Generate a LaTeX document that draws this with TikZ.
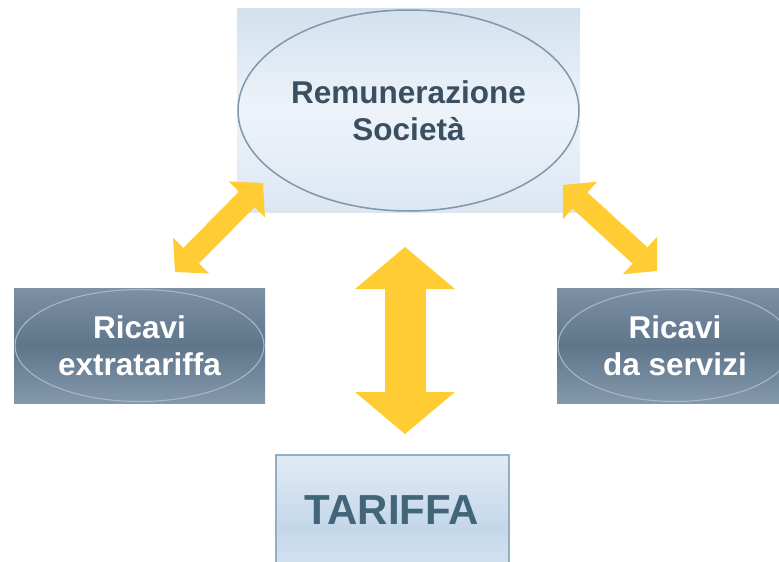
\documentclass[tikz,border=0pt]{standalone}
\usepackage{fontspec}
\setmainfont{Liberation Sans}
\usetikzlibrary{arrows.meta,shapes.geometric}

\definecolor{paleTop}{HTML}{D2E1EE}
\definecolor{paleMid}{HTML}{EEF3FA}
\definecolor{paleBot}{HTML}{DCE7F2}
\definecolor{steelTop}{HTML}{7D91A5}
\definecolor{steelMid}{HTML}{5F758A}
\definecolor{steelBot}{HTML}{8398AB}
\definecolor{tarTop}{HTML}{E1EBF5}
\definecolor{tarMid}{HTML}{C4D7EA}
\definecolor{tarLine}{HTML}{94AEC4}
\definecolor{rimBlue}{HTML}{8096AA}
\definecolor{rimPale}{HTML}{A6B7C7}
\definecolor{inkSlate}{HTML}{3A4F60}
\definecolor{inkTeal}{HTML}{42657A}
\definecolor{arrowYellow}{HTML}{FFCC33}

\tikzset{
  palebox/.style={rectangle, inner sep=0pt, top color=paleTop, bottom color=paleBot, middle color=paleMid},
  steelbox/.style={rectangle, inner sep=0pt, top color=steelTop, bottom color=steelBot, middle color=steelMid},
  tarbox/.style={rectangle, inner sep=0pt, draw=tarLine, line width=2pt, top color=tarTop, bottom color=tarTop, middle color=tarMid},
  bigfont/.style={font=\bfseries\fontsize{31.5}{37}\selectfont},
  socell/.style={ellipse, inner sep=0pt, draw=rimBlue, line width=1.5pt, align=center, text=inkSlate, bigfont},
  reveell/.style={ellipse, inner sep=0pt, draw=rimPale, line width=1.1pt, align=center, text=white, bigfont},
  fatarrow/.style={draw=arrowYellow, line width=22pt,
    {Triangle[length=23pt,width=51pt,line width=0pt]}-{Triangle[length=23pt,width=51pt,line width=0pt]}},
  hugearrow/.style={draw=arrowYellow, line width=41pt,
    {Triangle[length=42pt,width=100pt,line width=0pt]}-{Triangle[length=42pt,width=100pt,line width=0pt]}}
}

\begin{document}
\begin{tikzpicture}[x=1pt,y=-1pt]
  \useasboundingbox (0,0) rectangle (779,562);
  \clip (0,0) rectangle (779,562);

  % boxes
  \node[palebox, minimum width=343pt, minimum height=204pt] (socbox) at (408.5,110) {};
  \node[steelbox, minimum width=251pt, minimum height=115pt] (extrabox) at (139.5,345.5) {};
  \node[steelbox, minimum width=236pt, minimum height=115pt] (servbox) at (675,345.5) {};
  \node[tarbox, minimum width=233pt, minimum height=145pt] (tarbox) at (392.5,527.5) {};

  % labels
  \node[socell, minimum width=341pt, minimum height=201pt] (soc) at (408.5,110.5) {Remunerazione\\Società};
  \node[reveell, minimum width=249pt, minimum height=112pt] (extra) at (139.5,345.5) {Ricavi\\extratariffa};
  \node[reveell, minimum width=234pt, minimum height=112pt] (serv) at (675,345.5) {Ricavi\\da servizi};
  \node[font=\bfseries\fontsize{42}{48}\selectfont, text=inkTeal] (tar) at (392,510) {TARIFFA};

  % arrow ends
  \coordinate (extraTip) at (175,272);
  \coordinate (socLeft) at (263,183);
  \coordinate (socRight) at (563,185);
  \coordinate (servTip) at (657,271);
  \coordinate (socBelow) at (405,247);
  \coordinate (tarAbove) at (405,434);

  \draw[fatarrow] (extraTip) -- (socLeft);
  \draw[fatarrow] (socRight) -- (servTip);
  \draw[hugearrow] (socBelow) -- (tarAbove);
\end{tikzpicture}
\end{document}
